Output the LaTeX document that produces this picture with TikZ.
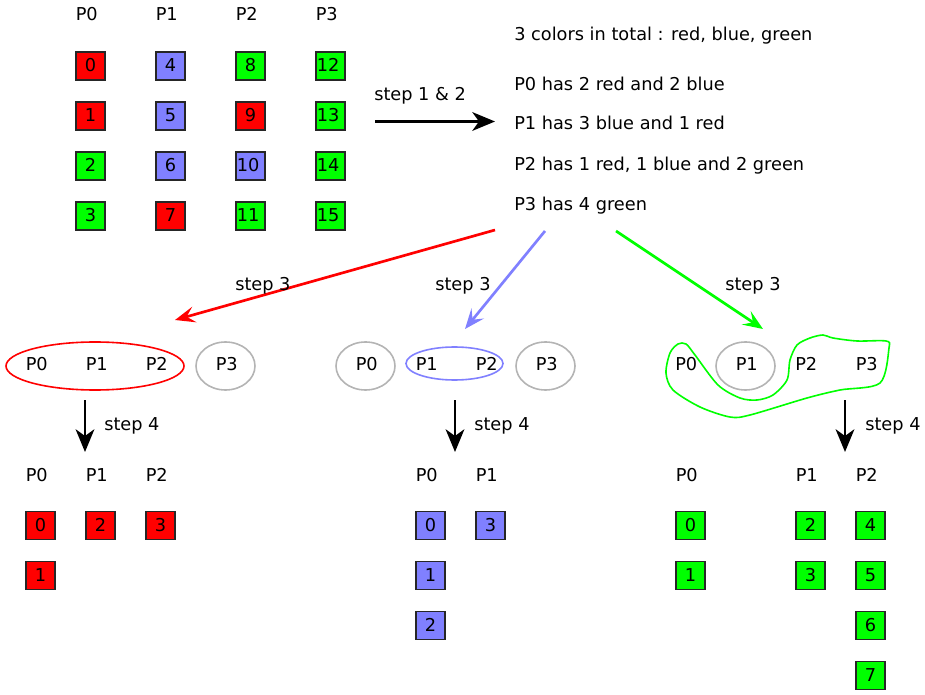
\documentclass[tikz,border=0pt]{standalone}
\usepackage{fontspec}
\setmainfont{DejaVu Sans}
\usetikzlibrary{arrows.meta,shapes.geometric}
\definecolor{cred}{RGB}{255,0,0}
\definecolor{cblue}{RGB}{128,128,255}
\definecolor{cgreen}{RGB}{0,255,0}
\definecolor{cgray}{RGB}{180,180,180}
\begin{document}
\begin{tikzpicture}[x=0.75pt,y=-0.75pt,
  every node/.style={font=\fontsize{13.3}{15}\selectfont},
  cell/.style={draw=black!85, line width=1.3pt, minimum width=21.75pt, minimum height=21pt, inner sep=0pt, text depth=1.2pt},
  wide/.style={text width=20.5pt, align=left},
  rc/.style={cell, fill=cred},
  bc/.style={cell, fill=cblue},
  gc/.style={cell, fill=cgreen},
  txt/.style={anchor=base west, inner sep=0pt},
  grayell/.style={ellipse, draw=cgray, line width=1.2pt, minimum width=44.25pt, minimum height=36pt, inner sep=0pt},
  bigarrow/.style={line width=2.2pt, -{Stealth[length=17pt,width=14pt,inset=5pt]}},
  colarrow/.style={line width=2pt, -{Stealth[length=15pt,width=12pt,inset=6pt]}}
]
\useasboundingbox (0,0) rectangle (925,695);

% ---- top grid ----
\node[txt] (tP0) at (75.5,21) {P0};
\node[txt] (tP1) at (155.5,21) {P1};
\node[txt] (tP2) at (235.5,21) {P2};
\node[txt] (tP3) at (315.5,21) {P3};

\node[rc] (c0) at (90.5,66) {0};
\node[rc] (c1) at (90.5,116) {1};
\node[gc] (c2) at (90.5,166) {2};
\node[gc] (c3) at (90.5,216) {3};
\node[bc] (c4) at (170.5,66) {4};
\node[bc] (c5) at (170.5,116) {5};
\node[bc] (c6) at (170.5,166) {6};
\node[rc] (c7) at (170.5,216) {7};
\node[gc] (c8) at (250.5,66) {8};
\node[rc] (c9) at (250.5,116) {9};
\node[bc,wide] (c10) at (250.5,166) {10};
\node[gc,wide] (c11) at (250.5,216) {11};
\node[gc,wide] (c12) at (330.5,66) {12};
\node[gc,wide] (c13) at (330.5,116) {13};
\node[gc,wide] (c14) at (330.5,166) {14};
\node[gc,wide] (c15) at (330.5,216) {15};

% ---- step 1 & 2 ----
\node[txt] (s12) at (374,101) {step 1 \& 2};
\coordinate (a12s) at (375,121.5);
\coordinate (a12e) at (495,121.5);
\draw[bigarrow] (a12s) -- (a12e);

% ---- info text ----
\node[txt] (info0) at (514,40.5) {3 colors in total : red, blue, green};
\node[txt] (info1) at (514,90.5) {P0 has 2 red and 2 blue};
\node[txt] (info2) at (514,130) {P1 has 3 blue and 1 red};
\node[txt] (info3) at (514,170.5) {P2 has 1 red, 1 blue and 2 green};
\node[txt] (info4) at (514,210.5) {P3 has 4 green};

% ---- step 3 arrows ----
\coordinate (rs) at (495,230);
\coordinate (re) at (175,320);
\coordinate (bs) at (545,231);
\coordinate (be) at (465,329);
\coordinate (gs) at (616,231);
\coordinate (ge) at (763,329);
\draw[colarrow, cred] (rs) -- (re);
\draw[colarrow, cblue] (bs) -- (be);
\draw[colarrow, cgreen] (gs) -- (ge);
\node[txt] (s3a) at (235,291) {step 3};
\node[txt] (s3b) at (435,291) {step 3};
\node[txt] (s3c) at (725,291) {step 3};

% ---- left group ----
\node[ellipse, draw=cred, line width=1.2pt, minimum width=133.5pt, minimum height=36pt, inner sep=0pt] (redell) at (95,366) {};
\node[txt] (L0) at (25.5,371) {P0};
\node[txt] (L1) at (85.5,371) {P1};
\node[txt] (L2) at (145.5,371) {P2};
\node[grayell] (L3) at (225.5,366) {};
\node[txt] (L3t) at (215.5,371) {P3};

% ---- middle group ----
\node[grayell] (M0) at (365.5,366) {};
\node[txt] (M0t) at (355.5,371) {P0};
\node[ellipse, draw=cblue, line width=1.2pt, minimum width=72.75pt, minimum height=24.75pt, inner sep=0pt] (blueell) at (454.5,363.5) {};
\node[txt] (M1) at (415.5,371) {P1};
\node[txt] (M2) at (475.5,371) {P2};
\node[grayell] (M3) at (545.5,366) {};
\node[txt] (M3t) at (535.5,371) {P3};

% ---- right group ----
\node[txt] (R0) at (675,371) {P0};
\node[grayell] (R1) at (745.5,366) {};
\node[txt] (R1t) at (735.5,371) {P1};
\node[txt] (R2) at (795,371) {P2};
\node[txt] (R3) at (855.5,371) {P3};
\draw[cgreen, line width=1.2pt] plot[smooth cycle, tension=0.5] coordinates {
 (695,355) (718,385) (740,398) (757,400) (773,395) (787,380) (790,360)
 (797,345) (810,338) (823,335) (833,338) (857,341) (886,341) (889,348)
 (880,383) (840,390) (807,398) (750,415) (730,417) (700,407) (673,390)
 (666,373) (670,353) (678,344) (686,344)};

% ---- step 4 arrows ----
\coordinate (l4s) at (85,400);
\coordinate (l4e) at (85,452);
\coordinate (m4s) at (455,400);
\coordinate (m4e) at (455,452);
\coordinate (r4s) at (845,400);
\coordinate (r4e) at (845,452);
\draw[bigarrow] (l4s) -- (l4e);
\draw[bigarrow] (m4s) -- (m4e);
\draw[bigarrow] (r4s) -- (r4e);
\node[txt] (s4a) at (104,431) {step 4};
\node[txt] (s4b) at (474,431) {step 4};
\node[txt] (s4c) at (865,431) {step 4};

% ---- bottom left ----
\node[txt] (bl0) at (25.5,481) {P0};
\node[txt] (bl1) at (85.5,481) {P1};
\node[txt] (bl2) at (145.5,481) {P2};
\node[rc] (bl0a) at (40.5,525.5) {0};
\node[rc] (bl0b) at (40.5,575.5) {1};
\node[rc] (bl1a) at (100.5,525.5) {2};
\node[rc] (bl2a) at (160.5,525.5) {3};

% ---- bottom middle ----
\node[txt] (bm0) at (415.5,481) {P0};
\node[txt] (bm1) at (475.5,481) {P1};
\node[bc] (bm0a) at (430.5,525.5) {0};
\node[bc] (bm0b) at (430.5,575.5) {1};
\node[bc] (bm0c) at (430.5,625.5) {2};
\node[bc] (bm1a) at (490.5,525.5) {3};

% ---- bottom right ----
\node[txt] (br0) at (675.5,481) {P0};
\node[txt] (br1) at (795.5,481) {P1};
\node[txt] (br2) at (855.5,481) {P2};
\node[gc] (br0a) at (690.5,525.5) {0};
\node[gc] (br0b) at (690.5,575.5) {1};
\node[gc] (br1a) at (810.5,525.5) {2};
\node[gc] (br1b) at (810.5,575.5) {3};
\node[gc] (br2a) at (870.5,525.5) {4};
\node[gc] (br2b) at (870.5,575.5) {5};
\node[gc] (br2c) at (870.5,625.5) {6};
\node[gc] (br2d) at (870.5,675.5) {7};
\end{tikzpicture}
\end{document}
